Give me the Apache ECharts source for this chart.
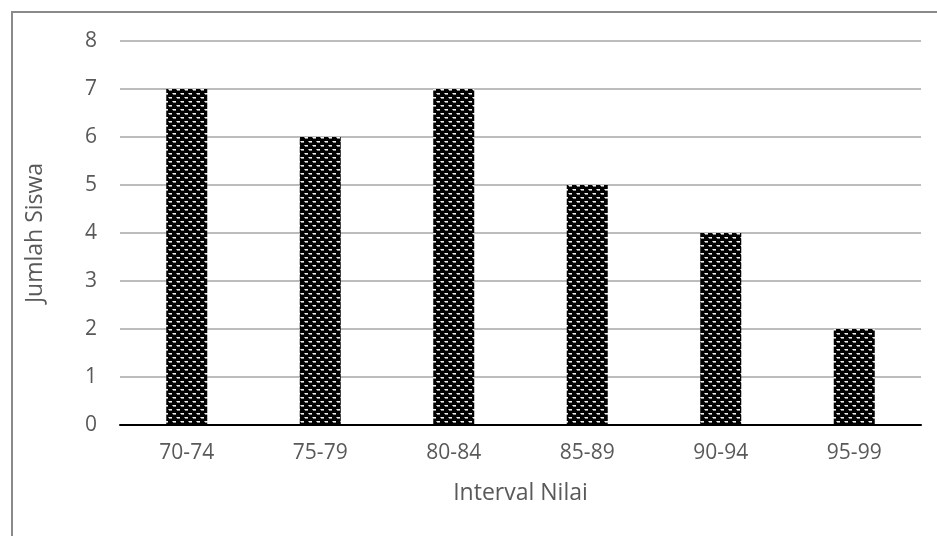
<!DOCTYPE html>
<html>
<head>
<meta charset="utf-8">
<script src="https://cdn.jsdelivr.net/npm/echarts@6/dist/echarts.min.js"></script>
<style>
  html, body { margin: 0; padding: 0; background: #fff; }
  #frame { position: absolute; left: 11px; top: 11px; width: 940px; height: 540px; border-left: 2px solid #8a8a8a; border-top: 2px solid #8a8a8a; box-sizing: border-box; }
  #chart { position: absolute; left: 0; top: 0; width: 937px; height: 536px; }
</style>
</head>
<body>
<div id="frame"></div>
<div id="chart"></div>
<script>
// Frequency of student scores per interval
const categories = ['70-74', '75-79', '80-84', '85-89', '90-94', '95-99'];
const counts = [7, 6, 7, 5, 4, 2];
const yTicks = [0, 1, 2, 3, 4, 5, 6, 7, 8];

// Black fill with small light dashes on staggered rows
function makePattern() {
  const c = document.createElement('canvas');
  c.width = 8; c.height = 8;
  const g = c.getContext('2d');
  g.fillStyle = '#000';
  g.fillRect(0, 0, 8, 8);
  g.fillStyle = '#f0f0f0';
  g.fillRect(1, 1, 3, 1);
  g.fillRect(5, 5, 3, 1);
  g.fillStyle = '#8c8c8c';
  g.fillRect(1, 2, 3, 1);
  g.fillRect(5, 6, 3, 1);
  g.fillRect(0, 1, 1, 1);
  g.fillRect(4, 5, 1, 1);
  return c;
}

const chart = echarts.init(document.getElementById('chart'), null, { renderer: 'canvas' });
const font = 'Open Sans';
chart.setOption({
  animation: false,
  grid: { left: 120, right: 16, top: 41, bottom: 111, containLabel: false },
  xAxis: {
    type: 'category',
    data: categories,
    name: 'Interval Nilai',
    nameLocation: 'middle',
    nameGap: 57,
    nameTextStyle: { fontFamily: font, fontSize: 23, color: '#595959' },
    axisLine: { lineStyle: { color: '#000', width: 2 } },
    axisTick: { show: false },
    axisLabel: { fontFamily: font, fontSize: 21, color: '#595959', margin: 18 }
  },
  yAxis: {
    type: 'value',
    min: yTicks[0],
    max: yTicks[yTicks.length - 1],
    interval: 1,
    name: 'Jumlah Siswa',
    nameLocation: 'middle',
    nameGap: 73,
    nameTextStyle: { fontFamily: font, fontSize: 23, color: '#595959' },
    axisLine: { show: false },
    axisTick: { show: false },
    axisLabel: { fontFamily: font, fontSize: 21, color: '#595959', margin: 23 },
    splitLine: { lineStyle: { color: '#a6a6a6', width: 1.5 } }
  },
  series: [{
    type: 'bar',
    data: counts,
    barWidth: 41,
    itemStyle: { color: { image: makePattern(), repeat: 'repeat' } }
  }]
});
</script>
</body>
</html>
